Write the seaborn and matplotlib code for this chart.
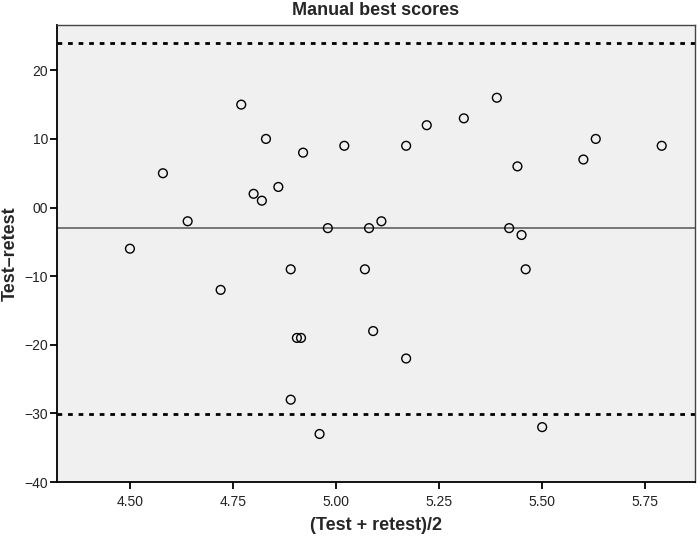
import numpy as np
import pandas as pd
import seaborn as sns
import matplotlib
matplotlib.use("Agg")
import matplotlib.pyplot as plt

# values (mean of test/retest vs difference)
mean_score = [4.50, 4.58, 4.64, 4.72, 4.77, 4.80, 4.82, 4.83, 4.86, 4.89,
              4.89, 4.905, 4.915, 4.92, 4.96, 4.98, 5.02, 5.07, 5.08, 5.09,
              5.11, 5.17, 5.17, 5.22, 5.31, 5.39, 5.42, 5.44, 5.45, 5.46,
              5.50, 5.60, 5.63, 5.79]
difference = [-6, 5, -2, -12, 15, 2, 1, 10, 3, -9,
              -28, -19, -19, 8, -33, -3, 9, -9, -3, -18,
              -2, 9, -22, 12, 13, 16, -3, 6, -4, -9,
              -32, 7, 10, 9]

mean_diff = -3.0
upper_loa = 24.0
lower_loa = -30.1

x_ticks = [4.50, 4.75, 5.00, 5.25, 5.50, 5.75]
x_ticklabels = ["4.50", "4.75", "5.00", "5.25", "5.50", "5.75"]
y_ticks = [20, 10, 0, -10, -20, -30, -40]
y_ticklabels = ["20", "10", "00", "\u221210", "\u221220", "\u221230", "\u221240"]

df = pd.DataFrame({"avg": mean_score, "diff": difference})

sns.set_style("ticks")
plt.rcParams["font.family"] = ["Liberation Sans", "DejaVu Sans"]

fig = plt.figure(figsize=(7, 5.37), dpi=100)
ax = fig.add_axes([0.0814, 0.1024, 0.9116, 0.851])
ax.set_facecolor("#f0f0f0")

ax.axhline(mean_diff, color="#606060", lw=1.2, zorder=1)
ax.axhline(upper_loa, color="black", lw=2, ls=(0, (1.7, 2.1)), zorder=1)
ax.axhline(lower_loa, color="black", lw=2, ls=(0, (1.7, 2.1)), zorder=1)

sns.scatterplot(data=df, x="avg", y="diff", ax=ax, s=40,
                facecolors="none", edgecolor="black", linewidth=1.0, zorder=3)

ax.set_xlim(4.323, 5.871)
ax.set_ylim(-40, 26.6)
ax.set_xticks(x_ticks)
ax.set_xticklabels(x_ticklabels)
ax.set_yticks(y_ticks)
ax.set_yticklabels(y_ticklabels)
ax.tick_params(axis="both", direction="out", length=5, width=1.3,
               labelsize=10, colors="black", labelcolor="#222222")
ax.tick_params(axis="x", pad=4)
ax.tick_params(axis="y", pad=1.5)

for sp in ax.spines.values():
    sp.set_visible(True)
    sp.set_color("#444444")
    sp.set_linewidth(1.0)
ax.spines["left"].set_color("black")
ax.spines["bottom"].set_color("black")
ax.spines["left"].set_linewidth(1.3)
ax.spines["bottom"].set_linewidth(1.3)

ax.set_xlabel("(Test + retest)/2", fontsize=13, fontweight="bold")
ax.set_ylabel("Test\u2013retest", fontsize=13, fontweight="bold")
ax.xaxis.set_label_coords(0.5, -0.0766)
ax.yaxis.set_label_coords(-0.0596, 0.5)
ax.set_title("Manual best scores", fontsize=13, fontweight="bold", pad=7)

fig.savefig("out.png", dpi=100)
